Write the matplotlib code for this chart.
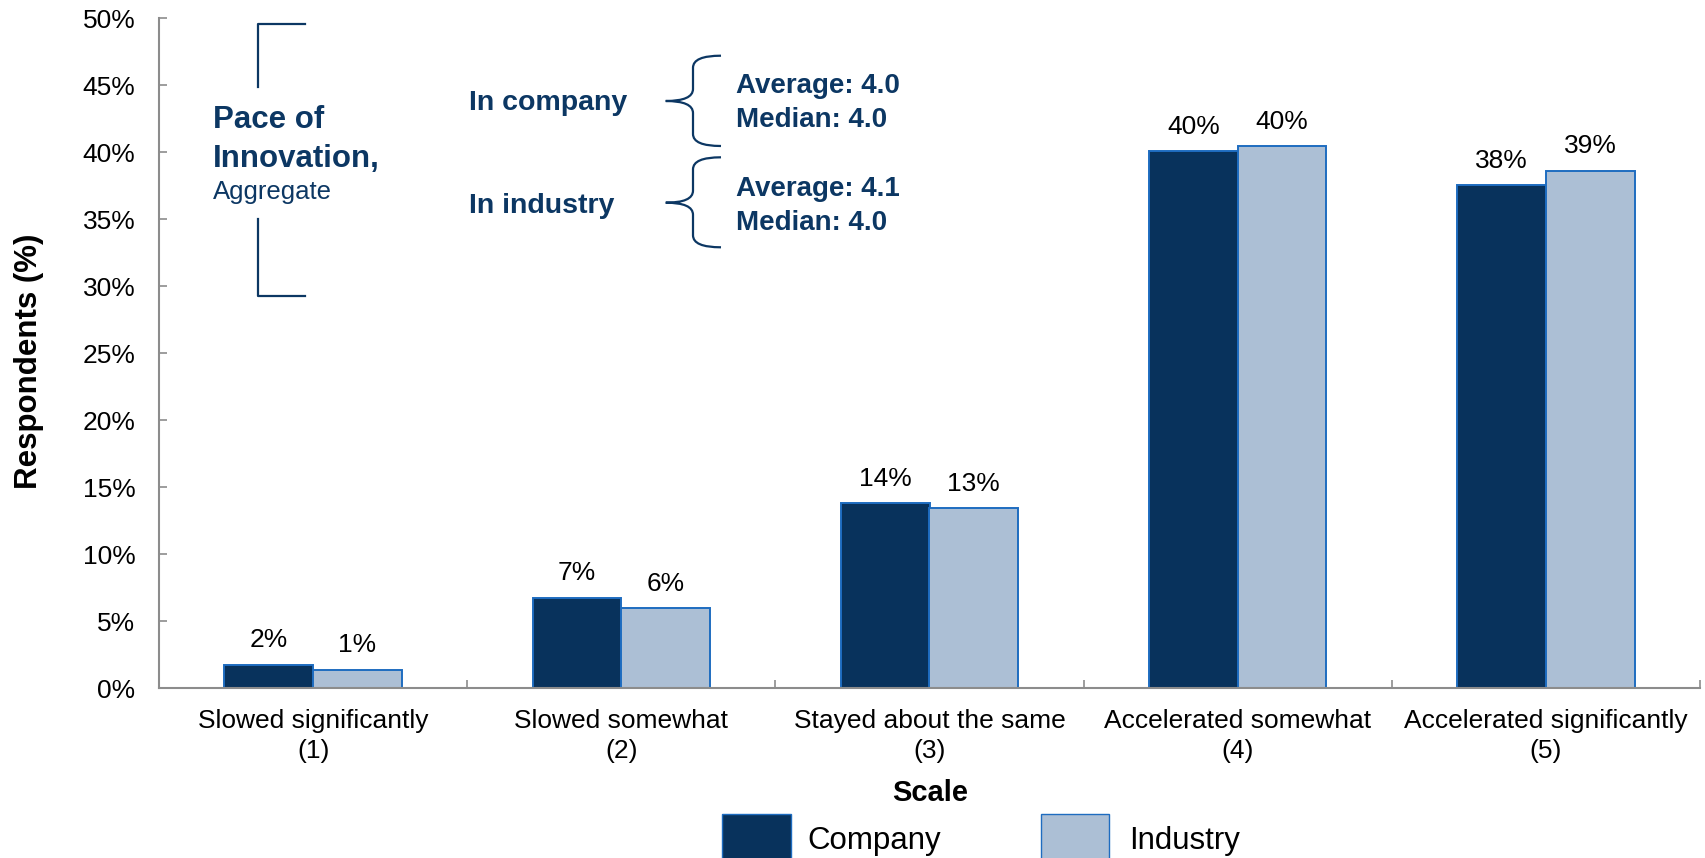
import matplotlib
matplotlib.use("Agg")
import numpy as np
from matplotlib import pyplot as plt
from matplotlib.patches import Rectangle, PathPatch
from matplotlib.path import Path
from matplotlib.ticker import FixedLocator, PercentFormatter

# Survey results: share of respondents per answer on the 1-5 scale
categories = [
    "Slowed significantly\n(1)",
    "Slowed somewhat\n(2)",
    "Stayed about the same\n(3)",
    "Accelerated somewhat\n(4)",
    "Accelerated significantly\n(5)",
]
company = [1.76, 6.77, 13.82, 40.07, 37.56]
industry = [1.39, 6.0, 13.46, 40.45, 38.63]
series_names = ["Company", "Industry"]

company_stats = ["Average: 4.0", "Median: 4.0"]
industry_stats = ["Average: 4.1", "Median: 4.0"]

NAVY = "#08325c"
LIGHT = "#acbfd5"
EDGE = "#1e6cc0"
TEXT_NAVY = "#0c3763"
AXIS_GREY = "#8c8c8c"

W, H = 1706, 858
plt.rcParams["font.family"] = ["Liberation Sans", "DejaVu Sans"]

fig = plt.figure(figsize=(W / 100, H / 100), dpi=100)
ax = fig.add_axes([159 / W, 1 - 688.3 / H, (1700 - 159) / W, (688.3 - 18.3) / H])


def px(x, y):
    # pixel position (from top-left) -> figure fraction
    return x / W, 1 - y / H


x = np.arange(len(categories))
bw = 0.2875
bars_c = ax.bar(x - bw / 2, company, bw, color=NAVY, edgecolor=EDGE, linewidth=1.4, zorder=2)
bars_i = ax.bar(x + bw / 2, industry, bw, color=LIGHT, edgecolor=EDGE, linewidth=1.4, zorder=2)

for bars, vals in ((bars_c, company), (bars_i, industry)):
    for b, v in zip(bars, vals):
        ax.annotate(f"{v:.0f}%", (b.get_x() + b.get_width() / 2, v),
                    xytext=(0, 12.5), textcoords="offset points",
                    ha="center", va="baseline", fontsize=19, color="black")

ax.set_xlim(-0.5, len(categories) - 0.5)
ax.set_ylim(0, 50)
ax.set_yticks(np.arange(0, 51, 5))
ax.yaxis.set_major_formatter(PercentFormatter(decimals=0))
ax.tick_params(axis="y", direction="in", length=5.5, width=1.2, color=AXIS_GREY,
               labelsize=19, pad=17)

# category boundaries get the ticks, centres get the labels
ax.xaxis.set_major_locator(FixedLocator(np.arange(-0.5, len(categories), 1.0)))
ax.xaxis.set_major_formatter(plt.NullFormatter())
ax.xaxis.set_minor_locator(FixedLocator(x))
ax.set_xticklabels(categories, minor=True, fontsize=19, linespacing=1.3)
ax.tick_params(axis="x", which="major", direction="in", length=5.5, width=1.2, color=AXIS_GREY)
ax.tick_params(axis="x", which="minor", length=0, pad=15)

for side in ("top", "right"):
    ax.spines[side].set_visible(False)
for side in ("left", "bottom"):
    ax.spines[side].set_color(AXIS_GREY)
    ax.spines[side].set_linewidth(1.5)

fig.text(*px(29, 361), "Respondents (%)", rotation=90, ha="center", va="center",
         fontsize=22.5, fontweight="bold")
fig.text(*px(930.5, 801), "Scale", ha="center", va="baseline", fontsize=21, fontweight="bold")

# legend swatches run off the bottom edge
for (x0, x1), tx, name, col in (((721.7, 790.7), 807.7, series_names[0], NAVY),
                                ((1041, 1109), 1129, series_names[1], LIGHT)):
    fx, fy = px(x0, 880)
    fig.patches.append(Rectangle((fx, fy), (x1 - x0) / W, (880 - 814) / H,
                                 transform=fig.transFigure, facecolor=col,
                                 edgecolor=EDGE, linewidth=1.0))
    fig.text(*px(tx, 849), name, ha="left", va="baseline", fontsize=22.5)

# "Pace of Innovation" block with its square bracket
fig.text(*px(213, 128.3), "Pace of", ha="left", va="baseline", fontsize=22.5,
         fontweight="bold", color=TEXT_NAVY)
fig.text(*px(213, 166.7), "Innovation,", ha="left", va="baseline", fontsize=22.5,
         fontweight="bold", color=TEXT_NAVY)
fig.text(*px(213, 199.3), "Aggregate", ha="left", va="baseline", fontsize=18.5,
         color=TEXT_NAVY)
for pts in ([(305.3, 24), (257.7, 24), (257.7, 87.3)],
            [(257.7, 219), (257.7, 295.7), (305.3, 295.7)]):
    xs, ys = zip(*[px(a, b) for a, b in pts])
    fig.add_artist(plt.Line2D(xs, ys, color=TEXT_NAVY, linewidth=1.6))


def curly_brace(top, tip, bottom, x_end=721, x_spine=693, x_tip=665.7, r=12):
    verts = [(x_end, top), (x_spine, top), (x_spine, top + r),
             (x_spine, tip - r), (x_spine, tip), (x_tip, tip),
             (x_spine, tip), (x_spine, tip + r),
             (x_spine, bottom - r), (x_spine, bottom), (x_end, bottom)]
    codes = [Path.MOVETO, Path.CURVE3, Path.CURVE3,
             Path.LINETO, Path.CURVE3, Path.CURVE3,
             Path.CURVE3, Path.CURVE3,
             Path.LINETO, Path.CURVE3, Path.CURVE3]
    path = Path([px(a, b) for a, b in verts], codes)
    fig.add_artist(PathPatch(path, transform=fig.transFigure, facecolor="none",
                             edgecolor=TEXT_NAVY, linewidth=1.6))


for label, stats, base, (top, tip, bottom) in (
        ("In company", company_stats, 110, (55.7, 101, 146)),
        ("In industry", industry_stats, 212.7, (157.3, 202.7, 247.3))):
    fig.text(*px(469.3, base), label, ha="left", va="baseline", fontsize=20.5,
             fontweight="bold", color=TEXT_NAVY)
    fig.text(*px(736, base - 16.7), stats[0], ha="left", va="baseline", fontsize=20,
             fontweight="bold", color=TEXT_NAVY)
    fig.text(*px(736, base + 17.3), stats[1], ha="left", va="baseline", fontsize=20,
             fontweight="bold", color=TEXT_NAVY)
    curly_brace(top, tip, bottom)

fig.savefig("out.png", dpi=100)
